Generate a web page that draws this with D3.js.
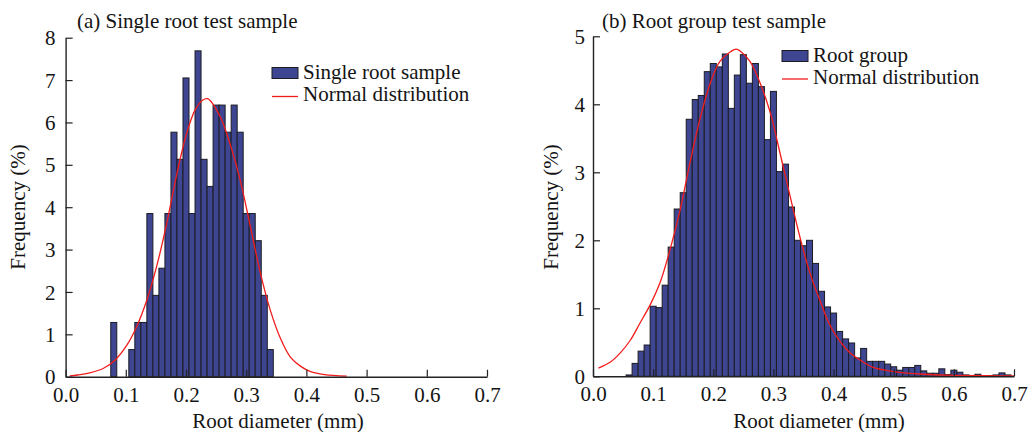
<!DOCTYPE html>
<html><head><meta charset="utf-8">
<script src="https://cdn.jsdelivr.net/npm/d3@7"></script>
<style>
body{margin:0;background:#fff}
svg{display:block}
text{font-family:"Liberation Serif","Times New Roman",serif;fill:#141414}
</style>
</head><body>
<svg id="chart" width="1030" height="432"></svg>
<script>
// ---- data ----
const xTicks = [0.0, 0.1, 0.2, 0.3, 0.4, 0.5, 0.6, 0.7];
const yTicksA = [0, 1, 2, 3, 4, 5, 6, 7, 8];
const yTicksB = [0, 1, 2, 3, 4, 5];

const singleBins = [0.08, 0.11, 0.12, 0.13, 0.14, 0.15, 0.16, 0.17, 0.18, 0.19, 0.20, 0.21, 0.22,
  0.23, 0.24, 0.25, 0.26, 0.27, 0.28, 0.29, 0.30, 0.31, 0.32, 0.33, 0.34];
const singleFreq = [1.28, 0.64, 1.28, 1.28, 3.85, 1.92, 2.56, 3.85, 5.77, 5.13, 7.05, 3.85, 7.69,
  5.13, 4.49, 6.41, 6.41, 5.77, 6.41, 5.77, 3.85, 3.85, 3.21, 1.92, 0.64];

const singleCurveX = [0.007, 0.02, 0.04, 0.063, 0.082, 0.102, 0.118, 0.135, 0.151, 0.168, 0.185, 0.201,
  0.215, 0.228, 0.236, 0.257, 0.273, 0.29, 0.307, 0.323, 0.34, 0.357, 0.373, 0.39, 0.407, 0.43, 0.467];
const singleCurveY = [0.02, 0.04, 0.09, 0.2, 0.39, 0.75, 1.18, 1.81, 2.59, 3.62, 4.80, 5.74,
  6.29, 6.53, 6.56, 6.13, 5.50, 4.64, 3.54, 2.48, 1.57, 0.90, 0.47, 0.25, 0.12, 0.05, 0.015];

const groupBins = [0.06, 0.07, 0.08, 0.09, 0.10, 0.11, 0.12, 0.13, 0.14, 0.15, 0.16, 0.17, 0.18, 0.19,
  0.20, 0.21, 0.22, 0.23, 0.24, 0.25, 0.26, 0.27, 0.28, 0.29, 0.30, 0.31, 0.32, 0.33, 0.34, 0.35,
  0.36, 0.37, 0.38, 0.39, 0.40, 0.41, 0.42, 0.43, 0.44, 0.45, 0.46, 0.47, 0.48, 0.49, 0.50, 0.51,
  0.52, 0.53, 0.54, 0.55, 0.56, 0.57, 0.58, 0.59, 0.60, 0.61, 0.62, 0.63, 0.64, 0.65, 0.66, 0.67,
  0.68, 0.69];
const groupFreq = [0.02, 0.19, 0.37, 0.46, 1.03, 1.01, 1.34, 1.90, 2.46, 2.70, 3.78, 4.07, 4.13, 4.48,
  4.60, 4.55, 4.74, 3.94, 4.43, 4.73, 4.31, 4.60, 4.26, 3.48, 4.19, 3.01, 3.12, 2.49, 2.00, 1.92,
  2.00, 1.66, 1.25, 1.02, 0.93, 0.66, 0.55, 0.49, 0.27, 0.41, 0.22, 0.22, 0.22, 0.18, 0.14, 0.09,
  0.13, 0.13, 0.16, 0.08, 0.045, 0.045, 0.11, 0.025, 0.09, 0.06, 0.02, 0.01, 0.03, 0.01, 0.01, 0.02,
  0.05, 0.02];

const groupCurveX = [0.009, 0.029, 0.045, 0.062, 0.078, 0.095, 0.112, 0.128, 0.145, 0.161, 0.178, 0.195,
  0.211, 0.228, 0.238, 0.245, 0.261, 0.278, 0.295, 0.311, 0.328, 0.344, 0.361, 0.378, 0.394, 0.411,
  0.428, 0.444, 0.466, 0.5, 0.55, 0.6, 0.65, 0.7];
const groupCurveY = [0.12, 0.21, 0.34, 0.53, 0.78, 1.05, 1.39, 1.86, 2.45, 3.13, 3.79, 4.31,
  4.63, 4.77, 4.81, 4.78, 4.63, 4.31, 3.87, 3.28, 2.64, 2.05, 1.51, 1.10, 0.75, 0.51,
  0.34, 0.24, 0.13, 0.07, 0.03, 0.015, 0.008, 0.005];

const binWidth = 0.01;

// ---- drawing ----
const svg = d3.select("#chart");
const BAR_FILL = "#3e4691", BAR_STROKE = "#1c1c24", CURVE = "#f21c1c", AXIS = "#222";

function panel(cfg) {
  const g = svg.append("g");
  const x = d3.scaleLinear().domain([0, 0.7]).range([cfg.x0, cfg.x1]);
  const y = d3.scaleLinear().domain([0, cfg.yMax]).range([cfg.yBottom, cfg.yTop]);

  // bars
  g.append("g").selectAll("rect").data(cfg.bins.map((b, i) => ({b, v: cfg.freq[i]})))
    .join("rect")
    .attr("x", d => x(d.b - binWidth / 2))
    .attr("width", d => x(d.b + binWidth / 2) - x(d.b - binWidth / 2))
    .attr("y", d => y(d.v))
    .attr("height", d => y(0) - y(d.v))
    .attr("fill", BAR_FILL).attr("stroke", BAR_STROKE).attr("stroke-width", 1);

  // normal curve
  const pts = cfg.cx.map((v, i) => [v, cfg.cy[i]]);
  g.append("path").datum(pts)
    .attr("d", d3.line().x(d => x(d[0])).y(d => y(d[1])).curve(d3.curveCatmullRom.alpha(0.5)))
    .attr("fill", "none").attr("stroke", CURVE).attr("stroke-width", 1.3);

  // axes
  const xa = g.append("g").attr("transform", `translate(0,${cfg.yBottom})`)
    .call(d3.axisBottom(x).tickValues(xTicks).tickFormat(d3.format(".1f")).tickSizeInner(-7).tickSizeOuter(0).tickPadding(10));
  const ya = g.append("g").attr("transform", `translate(${cfg.x0},0)`)
    .call(d3.axisLeft(y).tickValues(cfg.yTicks).tickFormat(d3.format("d")).tickSizeInner(-7).tickSizeOuter(0).tickPadding(cfg.yPad));
  [xa, ya].forEach(a => {
    a.select(".domain").attr("stroke", AXIS).attr("stroke-width", 1.4);
    a.selectAll(".tick line").attr("stroke", AXIS).attr("stroke-width", 1.2);
    a.selectAll(".tick text").attr("font-size", 21).attr("fill", "#141414")
      .style("font-family", '"Liberation Serif","Times New Roman",serif');
  });
  ya.selectAll(".tick text").attr("dy", "0.34em");
  xa.selectAll(".tick text").attr("dy", "0.71em");

  // titles
  g.append("text").attr("x", cfg.titleX).attr("y", 28).attr("font-size", 21).text(cfg.title);
  g.append("text").attr("x", cfg.xLabelX).attr("y", 428).attr("text-anchor", "middle")
    .attr("font-size", 21).text("Root diameter (mm)");
  g.append("text").attr("transform", `translate(${cfg.yLabelX},207) rotate(-90)`)
    .attr("text-anchor", "middle").attr("font-size", 21).text("Frequency (%)");

  // legend
  const L = g.append("g").attr("transform", `translate(${cfg.legX},${cfg.legY})`);
  L.append("rect").attr("x", 0).attr("y", 0).attr("width", 26).attr("height", 11)
    .attr("fill", BAR_FILL).attr("stroke", BAR_STROKE).attr("stroke-width", 1);
  L.append("text").attr("x", 31).attr("y", 11).attr("font-size", 21).text(cfg.legend);
  L.append("line").attr("x1", 0).attr("x2", 26).attr("y1", cfg.legGap + 5.5).attr("y2", cfg.legGap + 5.5)
    .attr("stroke", CURVE).attr("stroke-width", 1.3);
  L.append("text").attr("x", 31).attr("y", cfg.legGap + 10).attr("font-size", 21).text("Normal distribution");
}

panel({
  x0: 65.6, x1: 487, yBottom: 376.7, yTop: 37.7, yMax: 8, yTicks: yTicksA, yPad: 10,
  bins: singleBins, freq: singleFreq, cx: singleCurveX, cy: singleCurveY,
  title: "(a) Single root test sample", titleX: 77, xLabelX: 278, yLabelX: 25,
  legend: "Single root sample", legX: 272, legY: 67.5, legGap: 23.5
});
panel({
  x0: 593, x1: 1014, yBottom: 376.3, yTop: 36.3, yMax: 5, yTicks: yTicksB, yPad: 8,
  bins: groupBins, freq: groupFreq, cx: groupCurveX, cy: groupCurveY,
  title: "(b) Root group test sample", titleX: 602, xLabelX: 819, yLabelX: 558,
  legend: "Root group", legX: 782, legY: 50.5, legGap: 23
});
</script>
</body></html>
